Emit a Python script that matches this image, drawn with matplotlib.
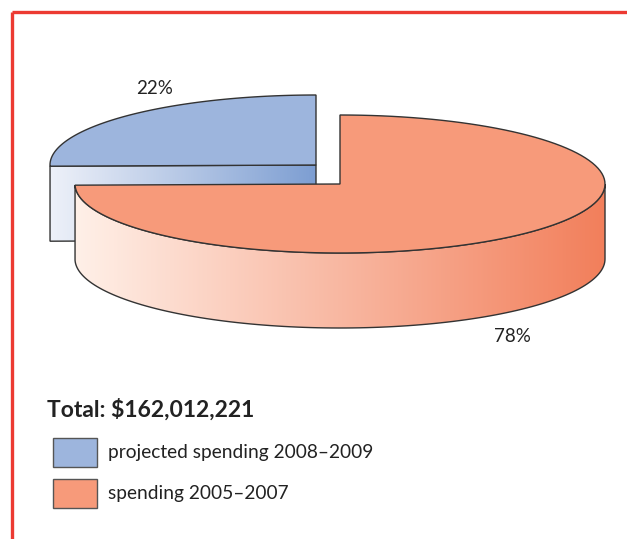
import numpy as np
import matplotlib.pyplot as plt
from matplotlib.patches import Polygon, Rectangle
from matplotlib.colors import LinearSegmentedColormap

plt.rcParams['font.family'] = ['Lato', 'DejaVu Sans']

labels = ['projected spending 2008–2009', 'spending 2005–2007']
shares = [22, 78]
total_text = 'Total: $162,012,221'

blue_top = '#9db5dd'
orange_top = '#f79a7a'
edge = '#333333'

fig = plt.figure(figsize=(6.27, 5.39), dpi=100)
ax = fig.add_axes([0, 0, 1, 1])
ax.set_xlim(0, 627)
ax.set_ylim(539, 0)
ax.axis('off')


def arc(cx, cy, rx, ry, a0, a1, n=120):
    t = np.radians(np.linspace(a0, a1, n))
    return np.column_stack([cx + rx * np.cos(t), cy - ry * np.sin(t)])


def grad_fill(pts, c0, c1, zorder):
    poly = Polygon(pts, closed=True, facecolor='none', edgecolor=edge, lw=1, zorder=zorder + 0.1)
    ax.add_patch(poly)
    cmap = LinearSegmentedColormap.from_list('g', [c0, c1])
    x0, x1 = pts[:, 0].min(), pts[:, 0].max()
    y0, y1 = pts[:, 1].min(), pts[:, 1].max()
    im = ax.imshow(np.linspace(0, 1, 256)[None, :], cmap=cmap, aspect='auto',
                   extent=[x0, x1, y1, y0], zorder=zorder)
    im.set_clip_path(poly)


# slice boundary: start at 12 o'clock, go counter-clockwise; small warp for perspective look
theta = 90 + 360 * shares[0] / sum(shares)
phi = theta + 32 * np.sin(np.radians(2 * (theta - 90)))

depth = 75

# blue slice (pulled out to upper left)
bcx, bcy, brx, bry = 316, 165, 266, 70
btop = np.vstack([[bcx, bcy], arc(bcx, bcy, brx, bry, 90, phi)])
ax.add_patch(Polygon(btop, closed=True, facecolor=blue_top, edgecolor=edge, lw=1, zorder=3))
p = arc(bcx, bcy, brx, bry, phi, phi, 1)[0]
face = np.array([[p[0], p[1]], [bcx, bcy], [bcx, bcy + depth], [p[0], p[1] + depth]])
grad_fill(face, '#eef1f9', '#7d9ed2', 2)

# orange slice
ocx, ocy, orx, ory = 340, 184, 265, 69
top_arc = arc(ocx, ocy, orx, ory, max(phi, 180), 360)
wall = np.vstack([top_arc, top_arc[::-1] + [0, depth]])
grad_fill(wall, '#fff0e8', '#f27f5b', 4)
otop = np.vstack([[ocx, ocy], arc(ocx, ocy, orx, ory, phi, 450)])
ax.add_patch(Polygon(otop, closed=True, facecolor=orange_top, edgecolor=edge, lw=1, zorder=5))

ax.text(155, 88, f'{shares[0]}%', fontsize=13.5, ha='center', va='center', color='#222222')
ax.text(512, 337, f'{shares[1]}%', fontsize=13.5, ha='center', va='center', color='#222222')

# total + legend
ax.text(47, 410, total_text, fontsize=16.5, fontweight='bold', ha='left', va='center', color='#222222')
for i, (lab, col) in enumerate(zip(labels, [blue_top, orange_top])):
    y = 438 + i * 41
    ax.add_patch(Rectangle((53, y), 44, 29, facecolor=col, edgecolor='#555555', lw=1, zorder=3))
    ax.text(108, y + 14.5, lab, fontsize=13.8, ha='left', va='center', color='#222222')

# red frame
ax.plot([12, 627], [12, 12], color='#ec3a32', lw=2.4, solid_capstyle='butt')
ax.plot([12, 12], [12, 539], color='#ec3a32', lw=2.4, solid_capstyle='butt')

fig.savefig('out.png', dpi=100)
